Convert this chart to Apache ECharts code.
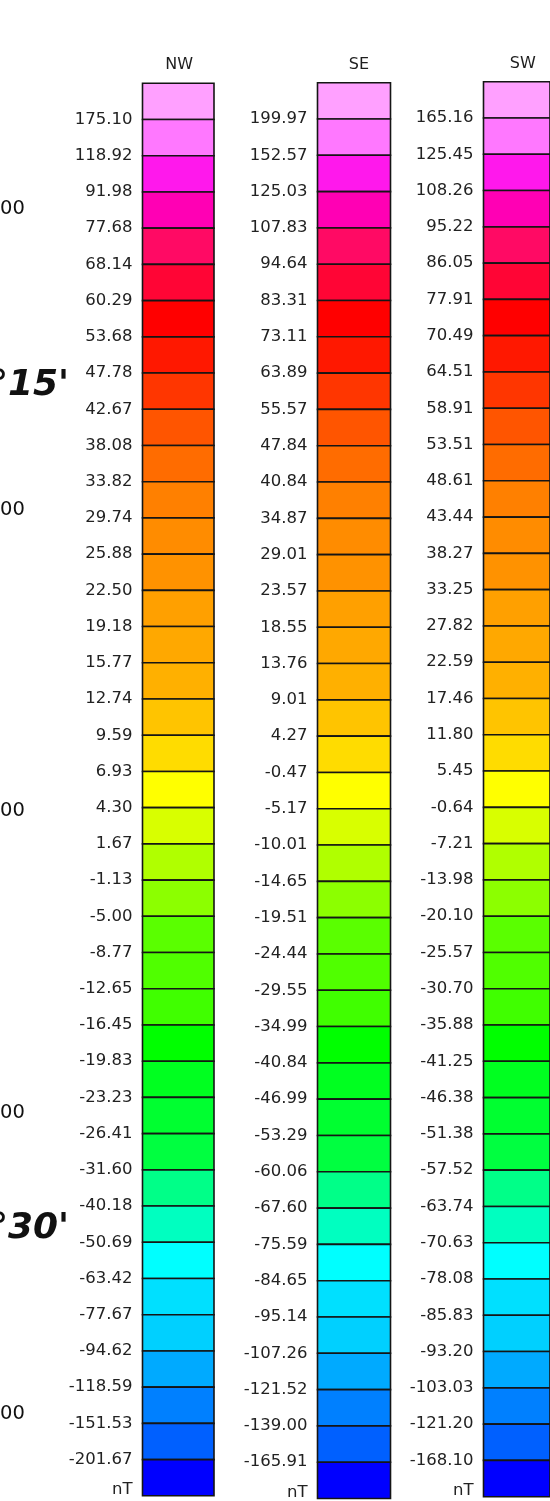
<!DOCTYPE html>
<html>
<head>
<meta charset="utf-8">
<script src="https://cdn.jsdelivr.net/npm/echarts@6/dist/echarts.min.js"></script>
<style>
html,body{margin:0;padding:0;background:#fff;}
#c{width:550px;height:1501px;}
</style>
</head>
<body>
<div id="c"></div>
<script>
// ---- data ----
const panelTitles = ['NW', 'SE', 'SW'];
const nwBreaks = [175.10, 118.92, 91.98, 77.68, 68.14, 60.29, 53.68, 47.78, 42.67, 38.08, 33.82, 29.74, 25.88, 22.50, 19.18, 15.77, 12.74, 9.59, 6.93, 4.30, 1.67, -1.13, -5.00, -8.77, -12.65, -16.45, -19.83, -23.23, -26.41, -31.60, -40.18, -50.69, -63.42, -77.67, -94.62, -118.59, -151.53, -201.67];
const seBreaks = [199.97, 152.57, 125.03, 107.83, 94.64, 83.31, 73.11, 63.89, 55.57, 47.84, 40.84, 34.87, 29.01, 23.57, 18.55, 13.76, 9.01, 4.27, -0.47, -5.17, -10.01, -14.65, -19.51, -24.44, -29.55, -34.99, -40.84, -46.99, -53.29, -60.06, -67.60, -75.59, -84.65, -95.14, -107.26, -121.52, -139.00, -165.91];
const swBreaks = [165.16, 125.45, 108.26, 95.22, 86.05, 77.91, 70.49, 64.51, 58.91, 53.51, 48.61, 43.44, 38.27, 33.25, 27.82, 22.59, 17.46, 11.80, 5.45, -0.64, -7.21, -13.98, -20.10, -25.57, -30.70, -35.88, -41.25, -46.38, -51.38, -57.52, -63.74, -70.63, -78.08, -85.83, -93.20, -103.03, -121.20, -168.10];
const unitLabel = 'nT';
const levelColors = ['#ffa0ff', '#ff78ff', '#ff18ec', '#ff00b4', '#ff0a64', '#ff0535', '#ff0000', '#ff1800', '#ff3600', '#ff5500', '#ff6c00', '#ff8000', '#ff8c00', '#ff9200', '#ffa000', '#ffa800', '#ffb000', '#ffc400', '#ffdc00', '#ffff00', '#d8ff00', '#b0ff00', '#8cff00', '#5aff00', '#50ff00', '#40ff00', '#00ff00', '#00ff20', '#00ff30', '#00ff40', '#00ff88', '#00ffc0', '#00ffff', '#00e0ff', '#00d0ff', '#00aaff', '#0080ff', '#0060ff', '#0000ff'];
const mapEdgeNumbers = ['00', '00', '00', '00', '00'];
const mapEdgeAngles = ["°15'", "°30'"];

// ---- layout ----
const breakSets = [nwBreaks, seBreaks, swBreaks];
const layout = [
  {left: 142.5, top: 83.3, width: 71.5, height: 1412.5, titleShift: 1},
  {left: 317.5, top: 82.7, width: 73, height: 1419, titleShift: 5},
  {left: 483.5, top: 81.7, width: 72, height: 1415, titleShift: 6}
];
const nCells = levelColors.length;
const FONT = 'DejaVu Sans';

const grids = [], xAxes = [], yAxes = [], series = [];
breakSets.forEach((br, p) => {
  const L = layout[p];
  grids.push({left: L.left, top: L.top, width: L.width, height: L.height});
  xAxes.push({
    gridIndex: p, type: 'value', min: 0, max: 1, position: 'top',
    name: panelTitles[p], nameLocation: 'middle', nameGap: 10,
    nameTextStyle: {fontFamily: FONT, fontSize: 16, color: '#1e1e1e', padding: [0, 0, 0, 2 * L.titleShift]},
    axisLine: {show: false}, axisTick: {show: false}, axisLabel: {show: false}, splitLine: {show: false}
  });
  yAxes.push({
    gridIndex: p, type: 'value', inverse: true, min: 0, max: nCells, interval: 1,
    axisLine: {show: false}, axisTick: {show: false}, splitLine: {show: false},
    axisLabel: {
      margin: 10, fontFamily: FONT, fontSize: 16.5, color: '#222',
      formatter: v => {
        if (v >= 1 && v <= br.length) return br[v - 1].toFixed(2);
        if (v === nCells) return '{u|' + unitLabel + '}';
        return '';
      },
      rich: {u: {fontFamily: FONT, fontSize: 16.5, color: '#222', padding: [0, 0, 12, 0]}}
    }
  });
  series.push({
    type: 'custom', xAxisIndex: p, yAxisIndex: p, silent: true, animation: false, clip: false,
    encode: {x: 0, y: 1},
    data: levelColors.map((c, i) => [0, i]),
    renderItem: (params, api) => {
      const i = api.value(1);
      const a = api.coord([0, i]);
      const b = api.coord([1, i + 1]);
      return {
        type: 'rect',
        shape: {x: a[0], y: a[1], width: b[0] - a[0], height: b[1] - a[1]},
        style: {fill: levelColors[i], stroke: '#151515', lineWidth: 1.6}
      };
    }
  });
});

const edgeNumY = [209, 510, 811, 1113, 1414];
const edgeAngleY = [386, 1229];
const graphic = [];
mapEdgeNumbers.forEach((t, k) => graphic.push({
  type: 'text', x: 0, y: edgeNumY[k], silent: true,
  style: {text: t, fontFamily: FONT, fontSize: 19.5, fill: '#111', align: 'left', verticalAlign: 'middle'}
}));
mapEdgeAngles.forEach((t, k) => graphic.push({
  type: 'text', x: 69, y: edgeAngleY[k], silent: true,
  style: {text: t, fontFamily: FONT, fontSize: 36, fontWeight: 'bold', fontStyle: 'italic', fill: '#111', align: 'right', verticalAlign: 'middle'}
}));

const chart = echarts.init(document.getElementById('c'));
chart.setOption({
  backgroundColor: '#fff',
  animation: false,
  grid: grids, xAxis: xAxes, yAxis: yAxes, series: series, graphic: graphic
});
</script>
</body>
</html>
